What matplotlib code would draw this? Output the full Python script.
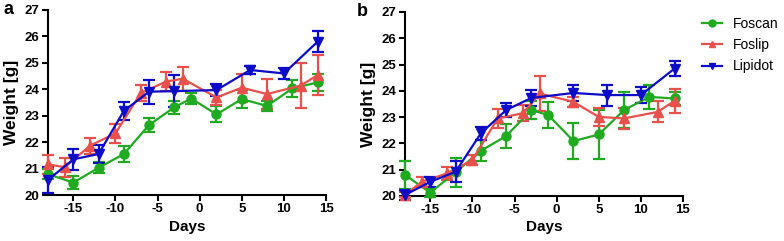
import matplotlib
matplotlib.use("Agg")
import matplotlib.pyplot as plt
from matplotlib.lines import Line2D

plt.rcParams['font.family'] = ['Liberation Sans', 'DejaVu Sans']

# ---- Panel a ----
a_foscan_x = [-18, -15, -12, -9, -6, -3, -1, 2, 5, 8, 11, 14]
a_foscan_y = [20.79, 20.47, 21.03, 21.55, 22.65, 23.32, 23.65, 23.05, 23.63, 23.37, 24.03, 24.26]
a_foscan_e = [0.2, 0.25, 0.2, 0.3, 0.25, 0.25, 0.2, 0.3, 0.35, 0.2, 0.33, 0.33]

a_foslip_x = [-18, -16, -13, -10, -7, -4, -2, 2, 5, 8, 12, 14]
a_foslip_y = [21.16, 21.05, 21.87, 22.33, 23.85, 24.29, 24.4, 23.69, 24.06, 23.82, 24.14, 24.54]
a_foslip_e = [0.35, 0.35, 0.3, 0.35, 0.3, 0.35, 0.45, 0.3, 0.53, 0.57, 0.85, 0.75]

a_lipidot_x = [-18, -15, -12, -9, -6, -3, 2, 6, 10, 14]
a_lipidot_y = [20.57, 21.35, 21.55, 23.18, 23.91, 23.93, 23.97, 24.73, 24.6, 25.8]
a_lipidot_e = [0.5, 0.4, 0.35, 0.35, 0.45, 0.6, 0.23, 0.15, 0.2, 0.4]

# ---- Panel b ----
b_foscan_x = [-18, -15, -12, -9, -6, -3, -1, 2, 5, 8, 11, 14]
b_foscan_y = [20.8, 20.13, 20.9, 21.72, 22.28, 23.27, 23.08, 22.09, 22.34, 23.27, 23.77, 23.71]
b_foscan_e = [0.55, 0.15, 0.55, 0.4, 0.45, 0.35, 0.5, 0.7, 0.95, 0.69, 0.45, 0.25]

b_foslip_x = [-18, -16, -13, -10, -7, -4, -2, 2, 5, 8, 12, 14]
b_foslip_y = [20.05, 20.54, 20.86, 21.37, 22.95, 23.15, 23.9, 23.58, 23.01, 22.95, 23.2, 23.62]
b_foslip_e = [0.1, 0.2, 0.25, 0.2, 0.35, 0.3, 0.65, 0.2, 0.35, 0.4, 0.4, 0.45]

b_lipidot_x = [-18, -15, -12, -9, -6, -3, 2, 6, 10, 14]
b_lipidot_y = [20.04, 20.54, 20.92, 22.38, 23.27, 23.73, 23.92, 23.84, 23.84, 24.85]
b_lipidot_e = [0.2, 0.2, 0.4, 0.25, 0.25, 0.3, 0.3, 0.4, 0.3, 0.3]

series_names = ["Foscan", "Foslip", "Lipidot"]
x_ticks = [-15, -10, -5, 0, 5, 10, 15]
y_ticks = [20, 21, 22, 23, 24, 25, 26, 27]

colors = ["#1faa1f", "#e8504c", "#0c0cc8"]
markers = ["o", "^", "v"]

W, H = 784, 241
fig = plt.figure(figsize=(W / 100, H / 100), dpi=100)

ax_a = fig.add_axes([48 / W, 1 - 195 / H, 278 / W, 185 / H])
ax_b = fig.add_axes([405 / W, 1 - 196 / H, 278 / W, 184 / H])

panels = [
    (ax_a, [(a_foscan_x, a_foscan_y, a_foscan_e),
            (a_foslip_x, a_foslip_y, a_foslip_e),
            (a_lipidot_x, a_lipidot_y, a_lipidot_e)]),
    (ax_b, [(b_foscan_x, b_foscan_y, b_foscan_e),
            (b_foslip_x, b_foslip_y, b_foslip_e),
            (b_lipidot_x, b_lipidot_y, b_lipidot_e)]),
]

for ax, data in panels:
    for (x, y, e), c, m in zip(data, colors, markers):
        ax.errorbar(x, y, yerr=e, color=c, marker=m, markersize=6.5,
                    linewidth=1.6, elinewidth=1.6, capsize=4, capthick=1.6,
                    clip_on=False, zorder=3)
    ax.set_xlim(-18, 15)
    ax.set_ylim(20, 27)
    ax.set_xticks(x_ticks)
    ax.set_yticks(y_ticks)
    ax.set_xticklabels([str(t) for t in x_ticks], fontweight='bold', fontsize=9.5)
    ax.set_yticklabels([str(t) for t in y_ticks], fontweight='bold', fontsize=9.5)
    ax.spines['top'].set_visible(False)
    ax.spines['right'].set_visible(False)
    for s in ['left', 'bottom']:
        ax.spines[s].set_linewidth(1.5)
    ax.tick_params(width=1.5, length=4, pad=2)
    ax.set_xlabel("Days", fontweight='bold', fontsize=11, labelpad=3)
    ax.set_ylabel("Weight [g]", fontweight='bold', fontsize=12.5, labelpad=4)

fig.text(3 / W, 1 - 10 / H, "a", fontweight='bold', fontsize=13, ha='left', va='center')
fig.text(357 / W, 1 - 12 / H, "b", fontweight='bold', fontsize=13, ha='left', va='center')

handles = [Line2D([], [], color=c, marker=m, markersize=5, linewidth=1.6)
           for c, m in zip(colors, markers)]
fig.legend(handles, series_names, loc='upper left',
           bbox_to_anchor=(702 / W, 1 - 17 / H), frameon=False, borderpad=0,
           borderaxespad=0, fontsize=10, handlelength=1.45, handletextpad=0.75,
           labelspacing=0.52)

fig.savefig("out.png", dpi=100)
